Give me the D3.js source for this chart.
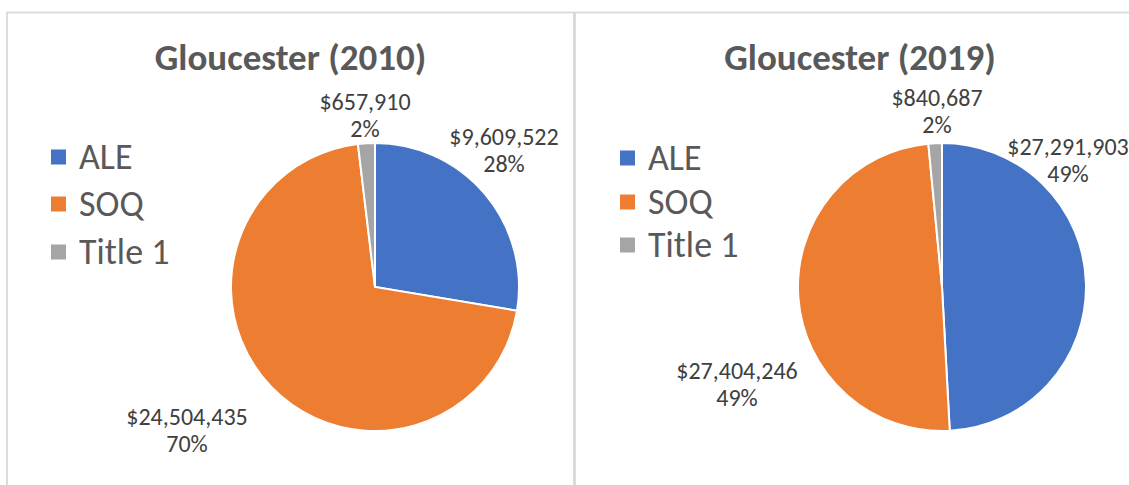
<!DOCTYPE html>
<html>
<head>
<meta charset="utf-8">
<script src="https://cdn.jsdelivr.net/npm/d3@7"></script>
<style>
  body { margin: 0; background: #fff; }
  svg { display: block; font-family: Carlito, Calibri, Lato, sans-serif; }
</style>
</head>
<body>
<svg id="chart" width="1129" height="485"></svg>
<script>
// data
const categories = ["ALE", "SOQ", "Title 1"];
const colors = ["#4472C4", "#ED7D31", "#A5A5A5"];
const titles = ["Gloucester (2010)", "Gloucester (2019)"];
const values2010 = [9609522, 24504435, 657910];
const values2019 = [27291903, 27404246, 840687];

// layout for each panel (label offsets are relative to pie centre)
const panels = [
  { title: titles[0], values: values2010, x: 7, w: 567, cx: 375, legendX: 51,
    legendY: [157, 204, 252],
    labelPos: [[129, -142], [-188, 138], [-10, -177]] },
  { title: titles[1], values: values2019, x: 575, w: 570, cx: 942, legendX: 620,
    legendY: [158, 202, 245],
    labelPos: [[126, -132], [-205, 92], [-5, -181]] }
];

const svg = d3.select("#chart");
const radius = 144;
const cy = 287;

const color = d3.scaleOrdinal().domain(categories).range(colors);
const pie = d3.pie().sort(null).value(d => d.value);
const arc = d3.arc().innerRadius(0).outerRadius(radius);
const money = d3.format("$,.0f");
const pct = d3.format(".0%");

panels.forEach(p => {
  const g = svg.append("g");

  // frame
  g.append("rect")
    .attr("x", p.x).attr("y", 12.5)
    .attr("width", p.w).attr("height", 520)
    .attr("fill", "none")
    .attr("stroke", "#d9d9d9")
    .attr("stroke-width", 1.8);

  // title
  g.append("text")
    .attr("x", p.x + p.w / 2)
    .attr("y", 70)
    .attr("text-anchor", "middle")
    .attr("font-size", 37)
    .attr("font-weight", "bold")
    .attr("fill", "#595959")
    .text(p.title);

  const data = categories.map((c, i) => ({ key: c, value: p.values[i] }));
  const total = d3.sum(data, d => d.value);
  const arcs = pie(data);

  const pg = g.append("g").attr("transform", `translate(${p.cx},${cy})`);
  pg.selectAll("path")
    .data(arcs)
    .join("path")
    .attr("d", arc)
    .attr("fill", d => color(d.data.key))
    .attr("stroke", "#fff")
    .attr("stroke-width", 2);

  // data labels
  const lab = pg.selectAll("text.lbl")
    .data(arcs)
    .join("text")
    .attr("class", "lbl")
    .attr("text-anchor", "middle")
    .attr("font-size", 24)
    .attr("fill", "#404040")
    .attr("transform", (d, i) => `translate(${p.labelPos[i][0]},${p.labelPos[i][1]})`);
  lab.append("tspan").attr("x", 0).attr("y", 0).text(d => money(d.data.value));
  lab.append("tspan").attr("x", 0).attr("y", 27).text(d => pct(d.data.value / total));

  // legend
  const lg = g.selectAll("g.leg")
    .data(categories)
    .join("g")
    .attr("class", "leg")
    .attr("transform", (d, i) => `translate(${p.legendX},${p.legendY[i]})`);
  lg.append("rect")
    .attr("x", 0).attr("y", -7.5)
    .attr("width", 15).attr("height", 15)
    .attr("fill", d => color(d));
  lg.append("text")
    .attr("x", 28)
    .attr("y", 12)
    .attr("font-size", 36)
    .attr("fill", "#595959")
    .text(d => d);
});
</script>
</body>
</html>
